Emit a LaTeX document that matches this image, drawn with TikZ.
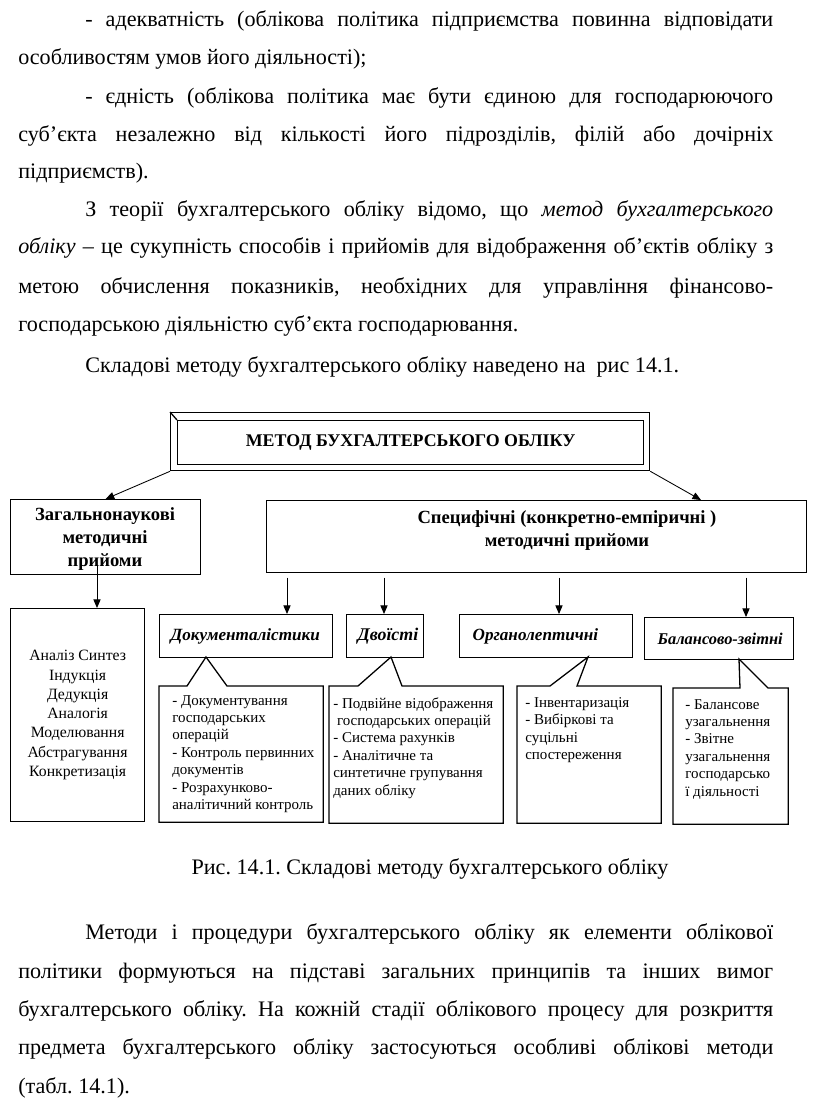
\documentclass[tikz,border=0pt]{standalone}
\usepackage{fontspec}
\setmainfont{Liberation Serif}
\usetikzlibrary{arrows.meta,calc}
\newlength\pxu \setlength\pxu{0.7pt}
\tikzset{
  body/.style={anchor=base west, inner sep=0pt, font=\fontsize{15.5}{18}\selectfont\frenchspacing},
  frame/.style={draw, line width=0.9pt, inner sep=0pt, anchor=north west},
  hdr/.style={frame, font=\fontsize{12}{14}\selectfont\bfseries\itshape, align=left},
  arr/.style={-{Triangle[length=6pt,width=5pt]}, line width=0.6pt},
  lst/.style={anchor=north west, inner sep=0pt, align=left, font=\fontsize{10.5}{12.2}\selectfont},
  outl/.style={line width=0.9pt}
}
\begin{document}
\frenchspacing
\begin{tikzpicture}[x=0.7pt,y=-0.7pt]
\useasboundingbox (0,0) rectangle (816,1113);
\fill[white] (0,0) rectangle (816,1113);
% ---- body text, top
\node[body] (t1) at (85,26) {\makebox[688\pxu][s]{- адекватність (облікова політика підприємства повинна відповідати}};
\node[body] (t2) at (18,64) {особливостям умов його діяльності);};
\node[body] (t3) at (85,103) {\makebox[688\pxu][s]{- єдність (облікова політика має бути єдиною для господарюючого}};
\node[body] (t4) at (18,141) {\makebox[755\pxu][s]{суб’єкта незалежно від кількості його підрозділів, філій або дочірніх}};
\node[body] (t5) at (18,178) {підприємств).};
\node[body] (t6) at (85,216) {\makebox[688\pxu][s]{З теорії бухгалтерського обліку відомо, що \textit{метод} \textit{бухгалтерського}}};
\node[body] (t7) at (18,253) {\makebox[755\pxu][s]{\textit{обліку} – це сукупність способів і прийомів для відображення об’єктів обліку з}};
\node[body] (t8) at (18,293) {\makebox[755\pxu][s]{метою обчислення показників, необхідних для управління фінансово-}};
\node[body] (t9) at (18,331) {господарською діяльністю суб’єкта господарювання.};
\node[body] (t10) at (85,372) {Складові методу бухгалтерського обліку наведено на\ \ рис 14.1.};
% ---- diagram
\node[frame, minimum width=479\pxu, minimum height=58\pxu] (top) at (170,412) {};
\node[frame, minimum width=466\pxu, minimum height=44\pxu, font=\fontsize{12.5}{14}\selectfont\bfseries] (topin) at (177,420) {МЕТОД БУХГАЛТЕРСЬКОГО ОБЛІКУ};
\draw[outl] (top.north west) -- (topin.north west);

\node[frame, minimum width=190\pxu, minimum height=75\pxu] (zag) at (10,499) {};
\node[align=center, inner sep=0pt, font=\fontsize{13}{15.8}\selectfont\bfseries] (zagtx) at (105,539) {Загальнонаукові\\методичні\\прийоми};
\node[frame, minimum width=540\pxu, minimum height=72\pxu] (spec) at (266,500) {};
\node[align=center, inner sep=0pt, font=\fontsize{13}{16.1}\selectfont\bfseries] (spectx) at (567,531) {Специфічні (конкретно-емпіричні )\\методичні прийоми};

\draw[arr] (top.south west) -- (zag.north);
\draw[arr] (top.south east) -- ($(spec.north west)+(435,0)$);

\node[frame, minimum width=134\pxu, minimum height=213\pxu, align=center, font=\fontsize{11}{13.5}\selectfont] (anl) at (10,608) {Аналіз Синтез\\Індукція\\Дедукція\\Аналогія\\Моделювання\\Абстрагування\\Конкретизація};
\coordinate (x0) at (97,0);
\draw[arr] ($(x0 |- zag.south)+(0,-10)$) -- (x0 |- anl.north);

% headers
\node[hdr, minimum width=173\pxu, minimum height=43\pxu, inner xsep=11\pxu, text width=151\pxu] (hd1) at (159,614) {Документалістики};
\node[hdr, minimum width=77\pxu, minimum height=43\pxu, inner xsep=11\pxu, text width=55\pxu, font=\fontsize{12.5}{14}\selectfont\bfseries\itshape] (hd2) at (346,614) {Двоїсті};
\node[hdr, minimum width=173\pxu, minimum height=43\pxu, inner xsep=13\pxu, text width=147\pxu] (hd3) at (459,614) {Органолептичні};
\node[hdr, minimum width=149\pxu, minimum height=42\pxu, inner xsep=13\pxu, text width=123\pxu, font=\fontsize{11.5}{14}\selectfont\bfseries\itshape] (hd4) at (644,617) {\mbox{Балансово-звітні}};
\coordinate (x1) at (287,0);
\coordinate (x2) at (384,0);
\coordinate (x3) at (559,0);
\coordinate (x4) at (746,0);
\draw[arr, shorten <=3pt] (x1 |- spec.south) -- (x1 |- hd1.north);
\draw[arr, shorten <=3pt] (x2 |- spec.south) -- (x2 |- hd2.north);
\draw[arr, shorten <=3pt] (x3 |- spec.south) -- (x3 |- hd3.north);
\draw[arr, shorten <=3pt] (x4 |- spec.south) -- (x4 |- hd4.north);

% callouts
\node[frame, draw=none, minimum width=163\pxu, minimum height=135\pxu] (cb1) at (159,686) {};
\node[frame, draw=none, minimum width=173\pxu, minimum height=136\pxu] (cb2) at (329,686) {};
\node[frame, draw=none, minimum width=143\pxu, minimum height=136\pxu] (cb3) at (517,686) {};
\node[frame, draw=none, minimum width=114\pxu, minimum height=135\pxu] (cb4) at (673,688) {};
\coordinate (tip1) at (206,657);
\coordinate (tip2) at (391,657);
\coordinate (tip3) at (588,657);
\coordinate (tip4) at (739,659);
\draw[outl] ($(cb1.north west)+(28,0)$) -- (tip1) -- ($(cb1.north west)+(68,0)$) -- (cb1.north east) -- (cb1.south east) -- (cb1.south west) -- (cb1.north west) -- cycle;
\draw[outl] ($(cb2.north west)+(29,0)$) -- (tip2) -- ($(cb2.north west)+(73,0)$) -- (cb2.north east) -- (cb2.south east) -- (cb2.south west) -- (cb2.north west) -- cycle;
\draw[outl] ($(cb3.north west)+(33,0)$) -- (tip3) -- ($(cb3.north west)+(60,0)$) -- (cb3.north east) -- (cb3.south east) -- (cb3.south west) -- (cb3.north west) -- cycle;
\draw[outl] ($(cb4.north west)+(67,0)$) -- (tip4) -- ($(cb4.north west)+(95,0)$) -- (cb4.north east) -- (cb4.south east) -- (cb4.south west) -- (cb4.north west) -- cycle;

\node[lst] (l1) at (172,695) {- Документування\\господарських\\операцій\\- Контроль первинних\\документів\\- Розрахунково-\\аналітичний контроль};
\node[lst] (l2) at (333,697) {- Подвійне відображення\\\ господарських операцій\\- Система рахунків\\- Аналітичне та\\синтетичне групування\\даних обліку};
\node[lst] (l3) at (525,697) {- Інвентаризація\\- Вибіркові та\\суцільні\\спостереження};
\node[lst] (l4) at (685,699) {- Балансове\\узагальнення\\- Звітне\\узагальнення\\господарсько\\ї діяльності};

% ---- caption and text below
\node[anchor=base, inner sep=0pt, font=\fontsize{15.5}{18}\selectfont] (cap) at (430,874) {Рис. 14.1. Складові методу бухгалтерського обліку};
\node[body] (t11) at (85,939) {\makebox[688\pxu][s]{Методи і процедури бухгалтерського обліку як елементи облікової}};
\node[body] (t12) at (18,978) {\makebox[755\pxu][s]{політики формуються на підставі загальних принципів та інших вимог}};
\node[body] (t13) at (18,1016) {\makebox[755\pxu][s]{бухгалтерського обліку. На кожній стадії облікового процесу для розкриття}};
\node[body] (t14) at (18,1054) {\makebox[755\pxu][s]{предмета бухгалтерського обліку застосуються особливі облікові методи}};
\node[body] (t15) at (18,1093) {(табл. 14.1).};
\end{tikzpicture}
\end{document}
